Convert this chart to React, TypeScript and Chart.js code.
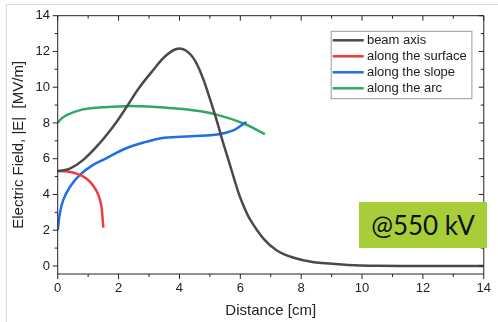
import React, { useEffect, useRef } from "react";
import { Chart, registerables } from "chart.js";

Chart.register(...registerables);

const FONT = '"Liberation Sans", Arial, sans-serif';

const X_TICKS = [0, 2, 4, 6, 8, 10, 12, 14];
const X_MINOR = [1, 3, 5, 7, 9, 11, 13];
const Y_TICKS = [0, 2, 4, 6, 8, 10, 12, 14];
const Y_MINOR = [1, 3, 5, 7, 9, 11, 13];

const X_TITLE = "Distance [cm]";
const Y_TITLE = "Electric Field, |E|  [MV/m]";
const ANNOTATION = "@550 kV";

const SERIES_LABELS = ["beam axis", "along the surface", "along the slope", "along the arc"];
const SERIES_COLORS = ["#4a4a4a", "#f03a3c", "#1f6fe3", "#2fa865"];

const BEAM_X = [0, 0.4, 0.83, 1.37, 1.91, 2.28, 2.66, 3.09, 3.58, 4.0, 4.38, 4.71, 4.98, 5.19, 5.41, 5.63, 5.82, 5.95, 6.1, 6.32, 6.76, 7.19, 7.73, 8.37, 9.02, 9.77, 10.5, 12, 14];
const BEAM_Y = [5.3, 5.45, 5.92, 6.85, 8.0, 8.94, 9.93, 10.86, 11.8, 12.17, 11.8, 10.77, 9.46, 8.34, 7.04, 5.82, 4.75, 4.05, 3.4, 2.6, 1.53, 0.88, 0.47, 0.22, 0.13, 0.04, 0.01, 0, 0];

const SURFACE_X = [0, 0.25, 0.5, 0.94, 1.26, 1.42, 1.47, 1.5];
const SURFACE_Y = [5.32, 5.3, 5.23, 4.89, 4.24, 3.49, 2.74, 2.15];

const SLOPE_X = [0, 0.07, 0.18, 0.4, 0.72, 1.15, 1.58, 2.23, 2.9, 3.5, 4.38, 5.3, 5.79, 6.09, 6.2];
const SLOPE_Y = [2.0, 2.93, 3.68, 4.42, 5.08, 5.64, 6.01, 6.57, 6.94, 7.17, 7.26, 7.37, 7.6, 7.93, 8.05];

const ARC_X = [0, 0.1, 0.29, 0.83, 1.37, 2.23, 2.98, 3.58, 4.38, 5.19, 6.11, 6.81];
const ARC_Y = [8.0, 8.2, 8.44, 8.76, 8.87, 8.94, 8.92, 8.85, 8.72, 8.48, 7.97, 7.37];

const SERIES_X = [BEAM_X, SURFACE_X, SLOPE_X, ARC_X];
const SERIES_Y = [BEAM_Y, SURFACE_Y, SLOPE_Y, ARC_Y];

const framePlugin = {
  id: "frame",
  afterDatasetsDraw(chart: any) {
    const { ctx, chartArea: ca, scales } = chart;
    const xs = scales.x;
    const ys = scales.y;
    ctx.save();
    ctx.strokeStyle = "#222";
    ctx.lineWidth = 1;
    ctx.beginPath();
    ctx.rect(ca.left, ca.top, ca.right - ca.left, ca.bottom - ca.top);
    ctx.stroke();
    const drawX = (v: number, len: number) => {
      const px = xs.getPixelForValue(v);
      ctx.beginPath();
      ctx.moveTo(px, ca.bottom);
      ctx.lineTo(px, ca.bottom + len);
      ctx.moveTo(px, ca.top);
      ctx.lineTo(px, ca.top + len);
      ctx.stroke();
    };
    const drawY = (v: number, len: number) => {
      const py = ys.getPixelForValue(v);
      ctx.beginPath();
      ctx.moveTo(ca.left, py);
      ctx.lineTo(ca.left - len, py);
      ctx.moveTo(ca.right, py);
      ctx.lineTo(ca.right - len, py);
      ctx.stroke();
    };
    X_TICKS.forEach((v) => drawX(v, 5));
    X_MINOR.forEach((v) => drawX(v, 3));
    Y_TICKS.forEach((v) => drawY(v, 5));
    Y_MINOR.forEach((v) => drawY(v, 3));
    ctx.restore();
  },
};

const legendPlugin = {
  id: "boxLegend",
  afterDraw(chart: any) {
    const { ctx, chartArea: ca } = chart;
    const left = ca.left + 273.5;
    const top = ca.top + 15.6;
    const w = 140.7;
    const h = 67.4;
    ctx.save();
    ctx.fillStyle = "#fff";
    ctx.fillRect(left, top, w, h);
    ctx.strokeStyle = "#999";
    ctx.lineWidth = 1;
    ctx.strokeRect(left, top, w, h);
    ctx.font = `13px ${FONT}`;
    ctx.textBaseline = "middle";
    ctx.textAlign = "left";
    chart.data.datasets.forEach((ds: any, i: number) => {
      const y = top + 9 + i * 16;
      ctx.strokeStyle = ds.borderColor;
      ctx.lineWidth = 2.5;
      ctx.beginPath();
      ctx.moveTo(left + 1.5, y);
      ctx.lineTo(left + 32.5, y);
      ctx.stroke();
      ctx.fillStyle = "#222";
      ctx.fillText(ds.label, left + 35.7, y);
    });
    ctx.restore();
  },
};

export default function App() {
  const ref = useRef<HTMLCanvasElement | null>(null);

  useEffect(() => {
    if (!ref.current) return;
    const datasets = SERIES_LABELS.map((label, i) => ({
      label,
      data: SERIES_X[i].map((x, j) => ({ x, y: SERIES_Y[i][j] })),
      borderColor: SERIES_COLORS[i],
      backgroundColor: SERIES_COLORS[i],
      borderWidth: 2.5,
      pointRadius: 0,
      fill: false,
      tension: 0.4,
    }));
    const chart = new Chart(ref.current, {
      type: "line",
      data: { datasets },
      plugins: [framePlugin, legendPlugin],
      options: {
        animation: false,
        responsive: false,
        maintainAspectRatio: false,
        layout: { padding: { top: 15.7, right: 7.3, left: 0, bottom: 0 } },
        plugins: { legend: { display: false }, tooltip: { enabled: false } },
        scales: {
          x: {
            type: "linear",
            min: 0,
            max: 14,
            grid: { display: false, drawTicks: false },
            border: { display: false },
            afterBuildTicks: (s: any) => {
              s.ticks = X_TICKS.map((v) => ({ value: v }));
            },
            afterFit: (s: any) => {
              s.height = 48;
            },
            ticks: {
              padding: 7,
              autoSkip: false,
              maxRotation: 0,
              color: "#222",
              font: { size: 13, family: FONT },
            },
            title: {
              display: true,
              text: X_TITLE,
              color: "#222",
              font: { size: 15, family: FONT },
              padding: { top: 0, bottom: 2.5 },
            },
          },
          y: {
            type: "linear",
            min: -0.45,
            max: 14,
            grid: { display: false, drawTicks: false },
            border: { display: false },
            afterBuildTicks: (s: any) => {
              s.ticks = Y_TICKS.map((v) => ({ value: v }));
            },
            afterFit: (s: any) => {
              s.width = 57.7;
            },
            ticks: {
              padding: 7.7,
              color: "#222",
              font: { size: 13, family: FONT },
            },
            title: {
              display: true,
              text: Y_TITLE,
              color: "#222",
              font: { size: 15, family: FONT },
              padding: { top: 10, bottom: 0 },
            },
          },
        },
      },
    });
    return () => chart.destroy();
  }, []);

  return (
    <div style={{ position: "fixed", left: 0, top: 0, width: 498, height: 322, background: "#fff", overflow: "hidden" }}>
      <div
        style={{
          position: "absolute",
          left: 6,
          top: 4,
          right: -2,
          bottom: -2,
          borderTop: "1px solid #dcdcdc",
          borderLeft: "1px solid #dcdcdc",
        }}
      />
      <canvas ref={ref} width={498} height={322} style={{ position: "absolute", left: 0, top: 0, display: "block" }} />
      <div
        style={{
          position: "absolute",
          left: 359,
          top: 202,
          width: 128,
          height: 46,
          background: "#a7cd39",
          display: "flex",
          alignItems: "center",
          justifyContent: "center",
          fontFamily: "Lato, sans-serif",
          fontSize: 26,
          color: "#111",
        }}
      >
        {ANNOTATION}
      </div>
    </div>
  );
}
